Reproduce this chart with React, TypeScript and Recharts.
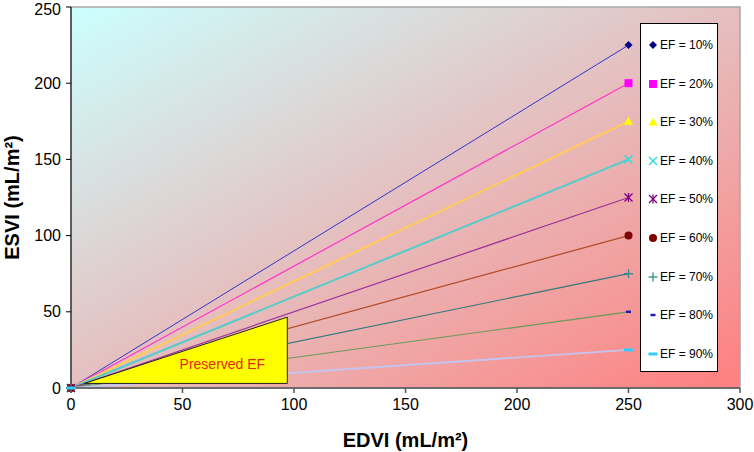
import React from 'react';
import { LineChart, Line, XAxis, YAxis, ReferenceArea } from 'recharts';

const efLabels = ['EF = 10%', 'EF = 20%', 'EF = 30%', 'EF = 40%', 'EF = 50%', 'EF = 60%', 'EF = 70%', 'EF = 80%', 'EF = 90%'];
const edviEnd = 250;
const esviEnd = [225, 200, 175, 150, 125, 100, 75, 50, 25];
const lineColors = ['#3333cc', '#ff33cc', '#ffcc55', '#55cccc', '#993399', '#b04a2a', '#337a7a', '#6a9a5a', '#c4c4ec'];
const markerColors = ['#000080', '#ff00ff', '#ffff00', '#33dddd', '#800080', '#800000', '#2a8a8a', '#1a1ab0', '#33ccff'];
const markerTypes = ['diamond', 'square', 'triangle', 'x', 'star', 'circle', 'plus', 'dash', 'wdash'];
const lineWidths = [1, 1.2, 2, 2, 1.2, 1.2, 1.2, 1.2, 1.8];
const xTicks = [0, 50, 100, 150, 200, 250, 300];
const yTicks = [0, 50, 100, 150, 200, 250];
const preserved = { x1: 6, x2: 97, y1: 3, y2: 46.5, label: 'Preserved EF' };

const FONT = 'Arial, "Liberation Sans", sans-serif';

function Marker({ type, color, cx, cy }: { type: string; color: string; cx: number; cy: number }) {
  switch (type) {
    case 'diamond':
      return <polygon points={`${cx},${cy - 4} ${cx + 4},${cy} ${cx},${cy + 4} ${cx - 4},${cy}`} fill={color} />;
    case 'square':
      return <rect x={cx - 4} y={cy - 4} width={8} height={8} fill={color} />;
    case 'triangle':
      return <polygon points={`${cx},${cy - 4.5} ${cx + 4.5},${cy + 3.5} ${cx - 4.5},${cy + 3.5}`} fill={color} />;
    case 'x':
      return (
        <g stroke={color} strokeWidth={1.5}>
          <line x1={cx - 4} y1={cy - 4} x2={cx + 4} y2={cy + 4} />
          <line x1={cx - 4} y1={cy + 4} x2={cx + 4} y2={cy - 4} />
        </g>
      );
    case 'star':
      return (
        <g stroke={color} strokeWidth={1.3}>
          <line x1={cx - 4} y1={cy - 4} x2={cx + 4} y2={cy + 4} />
          <line x1={cx - 4} y1={cy + 4} x2={cx + 4} y2={cy - 4} />
          <line x1={cx} y1={cy - 4.5} x2={cx} y2={cy + 4.5} />
        </g>
      );
    case 'circle':
      return <circle cx={cx} cy={cy} r={4} fill={color} />;
    case 'plus':
      return (
        <g stroke={color} strokeWidth={1.3}>
          <line x1={cx - 4.5} y1={cy} x2={cx + 4.5} y2={cy} />
          <line x1={cx} y1={cy - 4.5} x2={cx} y2={cy + 4.5} />
        </g>
      );
    case 'dash':
      return <rect x={cx - 2.5} y={cy - 1.2} width={5} height={2.4} fill={color} />;
    case 'wdash':
      return <rect x={cx - 4.5} y={cy - 1.5} width={9} height={3} fill={color} />;
    default:
      return null;
  }
}

function LegendBox() {
  return (
    <div
      style={{
        position: 'absolute',
        left: 640,
        top: 23,
        width: 76,
        height: 347,
        background: '#fff',
        border: '1px solid #000',
      }}
    >
      {efLabels.map((lab, i) => (
        <div
          key={lab}
          style={{
            position: 'absolute',
            left: 0,
            top: 21 + i * 38.6 - 8,
            height: 16,
            display: 'flex',
            alignItems: 'center',
            fontFamily: FONT,
            fontSize: 12,
            color: '#000',
            whiteSpace: 'nowrap',
          }}
        >
          <svg width={18} height={16} style={{ display: 'block' }}>
            <Marker type={markerTypes[i]} color={markerColors[i]} cx={12} cy={8} />
          </svg>
          <span style={{ marginLeft: 1 }}>{lab}</span>
        </div>
      ))}
    </div>
  );
}

const series = efLabels.map((name, i) => ({
  name,
  data: [
    { x: 0, y: 0 },
    { x: edviEnd, y: esviEnd[i] },
  ],
}));

function TriangleShape(props: any) {
  const { x, y, width, height } = props;
  if (x == null) return null;
  return (
    <g>
      <polygon
        points={`${x},${y + height} ${x + width},${y + height} ${x + width},${y}`}
        fill="#ffff00"
        stroke="#222"
        strokeWidth={1}
      />
      <text
        x={x + width * 0.68}
        y={y + height * 0.72}
        textAnchor="middle"
        dominantBaseline="middle"
        fontFamily={FONT}
        fontSize={14}
        fill="#e8251a"
      >
        {preserved.label}
      </text>
    </g>
  );
}

function YLabel(props: any) {
  const vb = props.viewBox || {};
  const cy = (vb.y ?? 0) + (vb.height ?? 0) / 2;
  return (
    <text
      x={14}
      y={cy}
      transform={`rotate(-90, 14, ${cy})`}
      textAnchor="middle"
      dominantBaseline="middle"
      fontFamily={FONT}
      fontSize={20}
      fontWeight="bold"
      fill="#000"
    >
      ESVI (mL/m²)
    </text>
  );
}

export default function App() {
  return (
    <div style={{ position: 'absolute', left: 0, top: 0, width: 754, height: 452, background: '#fff' }}>
      <LineChart width={754} height={452} margin={{ top: 7, right: 14, left: 0, bottom: 0 }}>
        <defs>
          <linearGradient id="bgGrad" x1="0" y1="0" x2="1" y2="1">
            <stop offset="0%" stopColor="#ccffff" />
            <stop offset="100%" stopColor="#ff7f7f" />
          </linearGradient>
        </defs>
        <XAxis
          dataKey="x"
          type="number"
          domain={[0, 300]}
          ticks={xTicks}
          allowDuplicatedCategory={false}
          height={64}
          tickSize={5}
          tickMargin={6}
          stroke="#555"
          strokeWidth={1.5}
          tick={{ fill: '#000', fontSize: 16, fontFamily: FONT }}
          label={{ value: 'EDVI (mL/m²)', position: 'insideBottom', offset: 5, fill: '#000', fontSize: 20, fontWeight: 'bold', fontFamily: FONT }}
        />
        <YAxis
          dataKey="y"
          type="number"
          domain={[0, 250]}
          ticks={yTicks}
          width={71}
          tickSize={5}
          tickMargin={5}
          stroke="#000"
          tick={{ fill: '#000', fontSize: 16, fontFamily: FONT }}
          label={<YLabel />}
        />
        <ReferenceArea x1={0} x2={300} y1={0} y2={250} fill="url(#bgGrad)" fillOpacity={1} stroke="#a8a8a8" strokeWidth={1.5} ifOverflow="visible" zIndex={-100} />
        {series.map((s, i) => (
          <Line
            key={s.name}
            data={s.data}
            dataKey="y"
            name={s.name}
            stroke={lineColors[i]}
            strokeWidth={lineWidths[i]}
            isAnimationActive={false}
            dot={(p: any) => (
              <Marker key={`${s.name}-${p.index}`} type={markerTypes[i]} color={markerColors[i]} cx={p.cx} cy={p.cy} />
            )}
            activeDot={false}
          />
        ))}
        <ReferenceArea
          x1={preserved.x1}
          x2={preserved.x2}
          y1={preserved.y1}
          y2={preserved.y2}
          shape={<TriangleShape />}
          zIndex={1000}
        />
      </LineChart>
      <LegendBox />
    </div>
  );
}
